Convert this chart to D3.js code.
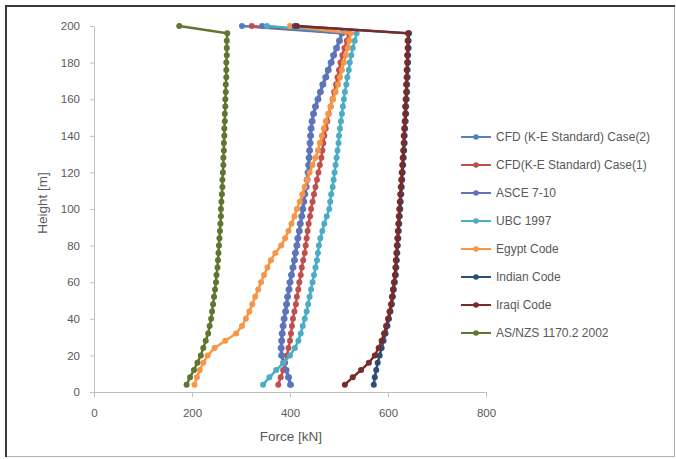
<!DOCTYPE html>
<html>
<head>
<meta charset="utf-8">
<script src="https://cdn.jsdelivr.net/npm/d3@7"></script>
<style>
  body { margin: 0; background: #fff; }
  text { font-family: "Liberation Sans", Arial, sans-serif; fill: #595959; }
</style>
</head>
<body>
<div id="chartdiv"></div>
<script>
// heights in m, bottom to top
var heights = [4, 8, 12, 16, 20, 24, 28, 32, 36, 40, 44, 48, 52, 56, 60, 64, 68, 72, 76, 80,
               84, 88, 92, 96, 100, 104, 108, 112, 116, 120, 124, 128, 132, 136, 140, 144, 148, 152, 156, 160,
               164, 168, 172, 176, 180, 184, 188, 192, 196, 200];

// force in kN, one value per height
var cfdCase2 = [400, 396, 391, 386, 382, 381, 382, 383, 385, 387, 390, 392, 394, 397, 399, 402, 405, 408, 410, 413,
                415, 418, 420, 423, 425, 427, 429, 432, 434, 436, 437, 438, 439, 440, 441, 442, 444, 447, 451, 456,
                461, 466, 472, 477, 483, 488, 494, 500, 505, 302];
var cfdCase1 = [376, 381, 386, 390, 394, 397, 400, 402, 404, 406, 409, 412, 414, 417, 419, 422, 424, 427, 430, 432,
                434, 436, 438, 441, 443, 446, 449, 452, 455, 458, 461, 464, 466, 468, 470, 473, 476, 479, 483, 487,
                490, 494, 497, 500, 503, 507, 511, 516, 520, 322];
var asce710 = [402, 398, 393, 388, 384, 383, 384, 385, 387, 389, 392, 394, 396, 399, 401, 404, 407, 410, 412, 415,
               417, 420, 422, 425, 427, 429, 431, 434, 436, 438, 439, 440, 441, 442, 443, 444, 446, 449, 453, 458,
               463, 468, 474, 479, 485, 490, 496, 502, 507, 343];
var ubc1997 = [345, 358, 372, 387, 400, 410, 417, 422, 426, 430, 434, 437, 440, 443, 446, 449, 452, 455, 457, 459,
               462, 466, 470, 475, 480, 482, 484, 487, 489, 491, 493, 495, 497, 499, 500, 502, 504, 506, 508, 510,
               512, 515, 517, 520, 522, 525, 528, 532, 536, 353];
var egyptCode = [205, 210, 216, 223, 232, 246, 268, 290, 302, 310, 317, 323, 329, 335, 341, 347, 354, 361, 370, 382,
                 390, 397, 403, 409, 414, 420, 425, 430, 435, 440, 446, 452, 457, 461, 465, 469, 473, 478, 483, 488,
                 493, 498, 502, 506, 510, 514, 518, 521, 524, 400];
var indianCode = [571, 573, 576, 579, 583, 587, 591, 595, 599, 602, 605, 608, 610, 612, 614, 616, 617, 618, 619, 620,
                  621, 622, 623, 624, 625, 626, 627, 628, 629, 630, 631, 632, 633, 634, 634, 635, 636, 637, 637, 638,
                  639, 639, 640, 640, 641, 641, 642, 642, 643, 410];
var iraqiCode = [512, 528, 545, 561, 573, 581, 587, 592, 596, 600, 603, 606, 608, 610, 612, 614, 615, 616, 617, 618,
                 619, 620, 621, 622, 623, 624, 625, 626, 627, 628, 629, 630, 631, 632, 632, 633, 634, 635, 635, 636,
                 637, 637, 638, 638, 639, 639, 640, 640, 641, 414];
var asnzs = [189, 196, 204, 211, 218, 223, 228, 233, 236, 239, 241, 243, 245, 247, 249, 250, 252, 253, 254, 255,
             256, 257, 258, 259, 259, 260, 261, 262, 262, 263, 264, 264, 265, 265, 266, 266, 267, 267, 268, 268,
             269, 269, 270, 270, 270, 271, 271, 271, 272, 174];

var seriesNames = ["CFD (K-E Standard) Case(2)", "CFD(K-E Standard) Case(1)", "ASCE 7-10", "UBC 1997",
                   "Egypt Code", "Indian Code", "Iraqi Code", "AS/NZS 1170.2 2002"];
var seriesValues = [cfdCase2, cfdCase1, asce710, ubc1997, egyptCode, indianCode, iraqiCode, asnzs];
var seriesColors = ["#4f81bd", "#c0504d", "#6172b8", "#4bacc6", "#f79646", "#2c4d75", "#772c2a", "#5f7530"];

var xTicks = [0, 200, 400, 600, 800];
var yTicks = [0, 20, 40, 60, 80, 100, 120, 140, 160, 180, 200];

var series = seriesNames.map(function(name, i) {
    return {
        name: name,
        color: seriesColors[i],
        points: heights.map(function(h, j) { return {h: h, f: seriesValues[i][j]}; })
    };
});

var svgContainer = d3.select("div#chartdiv").append("svg")
                                    .attr("width", 676)
                                    .attr("height", 459);

// frame
svgContainer.append("rect")
    .attr("x", 5.5).attr("y", 5.5)
    .attr("width", 669).attr("height", 451)
    .attr("fill", "#fff")
    .attr("stroke", "#b0b0b0")
    .attr("stroke-width", 1);
svgContainer.append("path")
    .attr("d", "M6,457V6H675")
    .attr("fill", "none")
    .attr("stroke", "#3a3a3a")
    .attr("stroke-width", 2);

var x = d3.scaleLinear().domain([0, 800]).range([94, 486]);
var y = d3.scaleLinear().domain([0, 200]).range([392, 26]);

// axes
var xAxis = svgContainer.append("g")
    .attr("transform", "translate(0,392)")
    .call(d3.axisBottom(x).tickValues(xTicks).tickSize(5).tickPadding(12));
var yAxis = svgContainer.append("g")
    .attr("transform", "translate(94,0)")
    .call(d3.axisLeft(y).tickValues(yTicks).tickSize(4).tickPadding(10));

[xAxis, yAxis].forEach(function(ax) {
    ax.select(".domain").attr("stroke", "#bfbfbf");
    ax.selectAll(".tick line").attr("stroke", "#bfbfbf");
    ax.selectAll(".tick text")
        .attr("fill", "#595959")
        .style("font-size", "11.5px")
        .style("font-family", "\"Liberation Sans\", Arial, sans-serif");
});

// axis titles
svgContainer.append("text")
    .attr("x", 291).attr("y", 441)
    .attr("text-anchor", "middle")
    .style("font-size", "13.5px")
    .text("Force [kN]");
svgContainer.append("text")
    .attr("transform", "translate(47,203) rotate(-90)")
    .attr("text-anchor", "middle")
    .style("font-size", "13.5px")
    .text("Height [m]");

// lines and markers
var line = d3.line()
    .x(function(d) { return x(d.f); })
    .y(function(d) { return y(d.h); });

var seriesGroups = svgContainer.selectAll("g.series")
    .data(series)
    .enter()
    .append("g")
    .classed("series", true);

seriesGroups.append("path")
    .attr("d", function(d) { return line(d.points); })
    .attr("fill", "none")
    .attr("stroke", function(d) { return d.color; })
    .attr("stroke-width", 2.5);

seriesGroups.selectAll("circle")
    .data(function(d) { return d.points.map(function(p) { return {p: p, color: d.color}; }); })
    .enter()
    .append("circle")
    .attr("cx", function(d) { return x(d.p.f); })
    .attr("cy", function(d) { return y(d.p.h); })
    .attr("r", 3)
    .attr("fill", function(d) { return d.color; });

// legend
var legend = svgContainer.selectAll("g.legend")
    .data(series)
    .enter()
    .append("g")
    .classed("legend", true)
    .attr("transform", function(d, i) { return "translate(461," + (137 + i * 28) + ")"; });

legend.append("line")
    .attr("x1", 0).attr("x2", 30)
    .attr("stroke", function(d) { return d.color; })
    .attr("stroke-width", 2);
legend.append("circle")
    .attr("cx", 15).attr("r", 2.8)
    .attr("fill", function(d) { return d.color; });
legend.append("text")
    .attr("x", 35).attr("y", 4)
    .style("font-size", "12px")
    .text(function(d) { return d.name; });
</script>
</body>
</html>
